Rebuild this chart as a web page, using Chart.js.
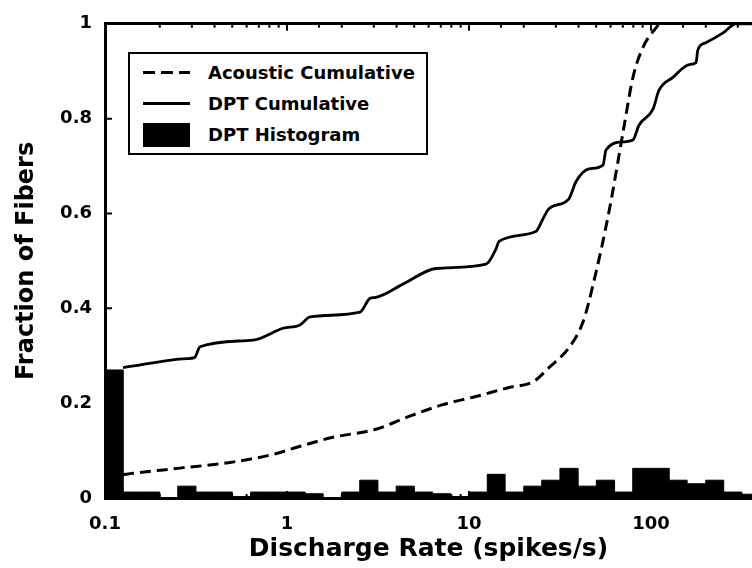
<!DOCTYPE html>
<html>
<head>
<meta charset="utf-8">
<script src="https://cdn.jsdelivr.net/npm/chart.js@4.4.0/dist/chart.umd.min.js"></script>
<style>
    body { margin: 0; background: #fff; }
    #wrap { position: relative; width: 752px; height: 568px; }
    #legend {
        position: absolute; left: 128px; top: 52px;
        width: 296px; height: 96px; padding-top: 3px;
        border: 2px solid #000; background: #fff;
        font: bold 18px "DejaVu Sans", sans-serif; color: #000;
    }
    #legend .row { display: flex; align-items: center; height: 31px; padding-left: 13px; }
    #legend .sample { width: 47px; margin-right: 18px; }
</style>
</head>
<body>
<div id="wrap">
    <canvas id="chart" width="752" height="568"></canvas>
    <div id="legend"></div>
</div>
<script>
//直方图分箱边界 (spikes/s)
var binEdges = [0.1, 0.126, 0.158, 0.2, 0.251, 0.316, 0.398, 0.501, 0.631, 0.794,
    1, 1.26, 1.58, 2, 2.51, 3.16, 3.98, 5.01, 6.31, 7.94,
    10, 12.6, 15.8, 20, 25.1, 31.6, 39.8, 50.1, 63.1, 79.4,
    100, 126, 158, 200, 251, 316, 398]
//每个分箱的纤维比例
var histHeights = [0.27, 0.0125, 0.0125, 0, 0.025, 0.0125, 0.0125, 0.003, 0.0125, 0.0125,
    0.0125, 0.009, 0, 0.0125, 0.0375, 0.0125, 0.025, 0.0125, 0.009, 0.003,
    0.0125, 0.05, 0.0125, 0.025, 0.0375, 0.0625, 0.025, 0.0375, 0.0125, 0.0625,
    0.0625, 0.0375, 0.03, 0.0375, 0.0125, 0.008]
//声刺激累积分布
var acousticRate = [0.1256, 0.1425, 0.258, 0.486, 0.838, 1.18, 1.79, 3.08, 4.68, 7.2,
    10.9, 16.6, 22.5, 27.5, 35.4, 42.3, 48, 58.8, 70.2, 79.6, 90.3, 110.7]
var acousticFrac = [0.049, 0.052, 0.063, 0.075, 0.092, 0.109, 0.128, 0.145, 0.172, 0.197,
    0.214, 0.233, 0.245, 0.275, 0.317, 0.371, 0.449, 0.604, 0.771, 0.887, 0.95, 1.0]
//DPT累积分布
var dptRate = [0.1256, 0.282, 0.31, 0.333, 0.65, 0.951, 1.18, 1.34, 2.52, 2.86,
    3.08, 4.34, 6.59, 12.4, 14.1, 14.6, 23.3, 25.5, 27.5, 35.4,
    38.7, 45.6, 54.5, 56.6, 70.2, 79.6, 85.9, 102.6, 110.7, 132,
    162, 176.7, 181, 200, 249, 293, 359]
var dptFrac = [0.275, 0.294, 0.296, 0.319, 0.333, 0.358, 0.365, 0.382, 0.392, 0.421,
    0.423, 0.451, 0.484, 0.493, 0.526, 0.541, 0.562, 0.589, 0.61, 0.631,
    0.667, 0.694, 0.702, 0.734, 0.751, 0.755, 0.786, 0.82, 0.86, 0.887,
    0.914, 0.918, 0.945, 0.96, 0.981, 1.0, 1.0]
var xTickLabels = [0.1, 1, 10, 100]
var yTickLabels = ['0', '0.2', '0.4', '0.6', '0.8', '1']

var xMin = 0.1, xMax = 359

function toPoints(xs, ys) {
    var pts = []
    xs.forEach(function (x, i) { pts.push({ x: x, y: ys[i] }) })
    return pts
}
var histPoints = toPoints(binEdges.slice(0, histHeights.length), histHeights)
histPoints.push({ x: binEdges[histHeights.length], y: histHeights[histHeights.length - 1] })

function isDecade(v) {
    var l = Math.log10(v)
    return Math.abs(l - Math.round(l)) < 1e-6
}

//坐标轴内侧刻度
var inwardTicks = {
    id: 'inwardTicks',
    afterDatasetsDraw: function (chart) {
        var ctx = chart.ctx, a = chart.chartArea
        var xs = chart.scales.x, ys = chart.scales.y
        ctx.save()
        ctx.strokeStyle = '#000'
        ctx.lineWidth = 2
        ctx.beginPath()
        xs.ticks.forEach(function (t) {
            var px = xs.getPixelForValue(t.value)
            if (px <= a.left + 1 || px >= a.right - 1) return
            var len = isDecade(t.value) ? 7 : 4
            ctx.moveTo(px, a.top); ctx.lineTo(px, a.top + len)
            ctx.moveTo(px, a.bottom); ctx.lineTo(px, a.bottom - len)
        })
        ys.ticks.forEach(function (t) {
            var py = ys.getPixelForValue(t.value)
            ctx.moveTo(a.left, py); ctx.lineTo(a.left + 7, py)
        })
        ctx.stroke()
        ctx.restore()
    }
}

var font = { family: '"DejaVu Sans", sans-serif', weight: 'bold', size: 18 }

var ctx = document.getElementById('chart').getContext('2d')
var chart = new Chart(ctx, {
    type: 'line',
    data: {
        datasets: [
            {
                label: 'Acoustic Cumulative',
                data: toPoints(acousticRate, acousticFrac),
                borderColor: '#000',
                borderWidth: 3,
                borderDash: [11, 6],
                pointRadius: 0,
                cubicInterpolationMode: 'monotone',
                fill: false
            },
            {
                label: 'DPT Cumulative',
                data: toPoints(dptRate, dptFrac),
                borderColor: '#000',
                borderWidth: 2.8,
                pointRadius: 0,
                cubicInterpolationMode: 'monotone',
                fill: false
            },
            {
                label: 'DPT Histogram',
                data: histPoints,
                borderColor: '#000',
                borderWidth: 1,
                backgroundColor: '#000',
                stepped: 'before',
                pointRadius: 0,
                fill: 'origin'
            }
        ]
    },
    options: {
        responsive: false,
        animation: false,
        events: [],
        layout: { autoPadding: false, padding: { top: 21, right: 0, left: 0, bottom: 0 } },
        plugins: { legend: { display: false }, tooltip: { enabled: false } },
        scales: {
            x: {
                type: 'logarithmic',
                position: 'bottom',
                min: xMin,
                max: xMax,
                grid: { display: true, drawOnChartArea: false, drawTicks: false },
                border: { display: true, color: '#000', width: 3 },
                ticks: {
                    color: '#000', font: font, padding: 16,
                    autoSkip: false, maxRotation: 0,
                    callback: function (v) {
                        for (var i = 0; i < xTickLabels.length; i++) {
                            if (Math.abs(Math.log10(v) - Math.log10(xTickLabels[i])) < 1e-6) return String(xTickLabels[i])
                        }
                        return ''
                    }
                },
                title: {
                    display: true, text: 'Discharge Rate (spikes/s)', color: '#000',
                    font: { family: '"DejaVu Sans", sans-serif', weight: 'bold', size: 25 },
                    padding: { top: 0, bottom: 4 }
                },
                afterFit: function (s) {
                    s.height = 70
                    s.paddingLeft = 0
                    s.paddingRight = 0
                }
            },
            x2: {
                type: 'logarithmic',
                position: 'top',
                min: xMin,
                max: xMax,
                grid: { display: true, drawOnChartArea: false, drawTicks: false },
                border: { display: true, color: '#000', width: 3 },
                ticks: { display: false },
                afterFit: function (s) {
                    s.paddingLeft = 0
                    s.paddingRight = 0
                }
            },
            y: {
                min: 0,
                max: 1,
                grid: { display: true, drawOnChartArea: false, drawTicks: false },
                border: { display: true, color: '#000', width: 3 },
                ticks: {
                    color: '#000', font: font, padding: 13, stepSize: 0.2,
                    callback: function (v, i) { return yTickLabels[i] }
                },
                title: {
                    display: true, text: 'Fraction of Fibers', color: '#000',
                    font: { family: '"DejaVu Sans", sans-serif', weight: 'bold', size: 24 },
                    padding: { top: 12, bottom: 0 }
                },
                afterFit: function (s) { s.width = 105 }
            }
        }
    },
    plugins: [inwardTicks]
})

//图例
var legend = document.getElementById('legend')
chart.data.datasets.forEach(function (ds) {
    var row = document.createElement('div')
    row.className = 'row'
    var sample = document.createElement('div')
    sample.className = 'sample'
    if (ds.fill === 'origin') {
        sample.style.height = '24px'
        sample.style.background = '#000'
    } else if (ds.borderDash) {
        sample.style.height = '3px'
        sample.style.background = 'repeating-linear-gradient(to right, #000 0 12px, transparent 12px 18px)'
    } else {
        sample.style.height = '3px'
        sample.style.background = '#000'
    }
    var text = document.createElement('span')
    text.textContent = ds.label
    row.appendChild(sample)
    row.appendChild(text)
    legend.appendChild(row)
})
</script>
</body>
</html>
